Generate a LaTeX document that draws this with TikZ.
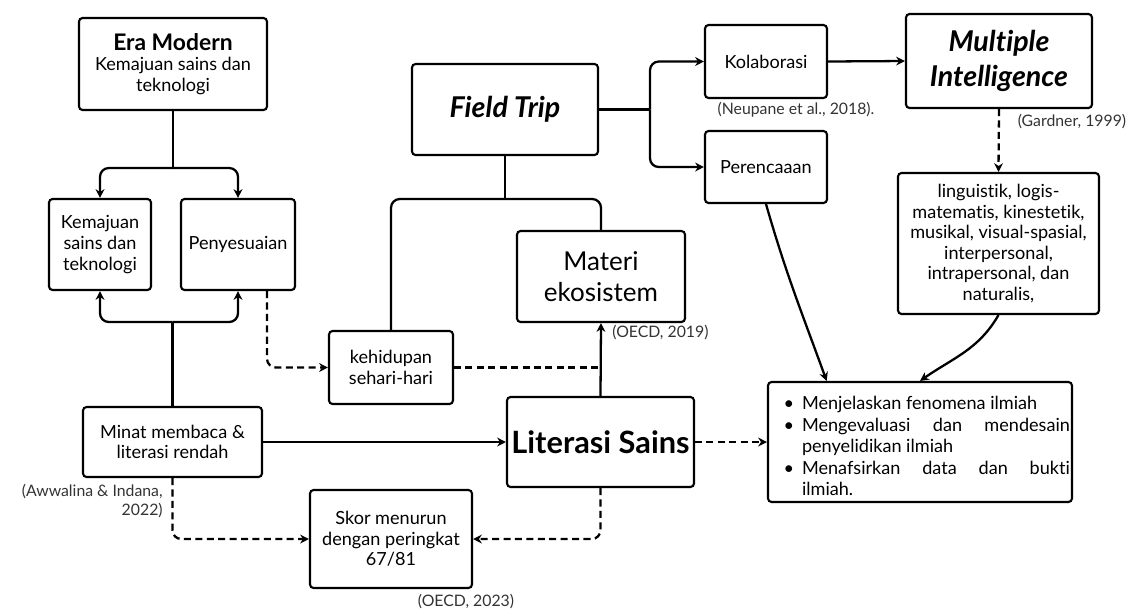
\documentclass[tikz,border=0pt]{standalone}
\usepackage{fontspec}
\setmainfont{Lato}[Ligatures=NoCommon]
\usepackage{tikz}
\usetikzlibrary{arrows.meta, positioning, calc}

\tikzset{
  kotak/.style={draw, line width=1.2pt, rounded corners=2pt, align=center, inner sep=2pt,
    font=\fontsize{10.3}{11.7}\selectfont},
  garis/.style={line width=1.3pt, rounded corners=5pt},
  panah/.style={garis, -{Stealth[length=5pt,width=5pt]}},
  putus/.style={dash pattern=on 4pt off 2.5pt},
  sumber/.style={font=\fontsize{9}{11}\selectfont, text=black!80, inner sep=0pt}
}

\begin{document}
\begin{tikzpicture}[x=0.02cm, y=-0.02cm]
  \useasboundingbox (0,0) rectangle (1140,610);
  % Left column
  \node[kotak, minimum width=3.76cm, minimum height=1.84cm] (era) at (173,64)
    {{\fontsize{13}{15}\selectfont\bfseries Era Modern}\\Kemajuan sains dan\\teknologi};
  \node[kotak, minimum width=2.04cm, minimum height=1.82cm] (kemajuan) at (100,244.5)
    {Kemajuan\\sains dan\\teknologi};
  \node[kotak, minimum width=2.28cm, minimum height=1.82cm] (penyesuaian) at (238,244.5)
    {Penyesuaian};
  \node[kotak, minimum width=3.58cm, minimum height=1.4cm] (minat) at (172.5,442)
    {Minat membaca \&\\literasi rendah};
  % Middle column
  \node[kotak, minimum width=3.72cm, minimum height=1.82cm] (field) at (505,109.5)
    {\fontsize{16.3}{19}\selectfont\bfseries\itshape Field Trip};
  \node[kotak, minimum width=2.48cm, minimum height=1.46cm] (kehidupan) at (391,367.5)
    {kehidupan\\sehari-hari};
  \node[kotak, minimum width=3.36cm, minimum height=1.82cm, font=\fontsize{14.8}{17.6}\selectfont] (materi) at (601,276.5)
    {Materi\\ekosistem};
  \node[kotak, minimum width=3.74cm, minimum height=1.8cm] (literasi) at (600.5,442)
    {\fontsize{17.5}{20}\selectfont\bfseries Literasi Sains};
  \node[kotak, minimum width=3.24cm, minimum height=1.96cm] (skor) at (391,539)
    {Skor menurun\\dengan peringkat\\67/81};
  % Right column
  \node[kotak, minimum width=2.44cm, minimum height=1.46cm] (kolab) at (766,61.5) {Kolaborasi};
  \node[kotak, minimum width=2.44cm, minimum height=1.44cm] (rencana) at (766,167) {Perencaaan};
  \node[kotak, minimum width=3.72cm, minimum height=1.88cm, font=\fontsize{16.3}{20}\selectfont\bfseries\itshape] (multi) at (999,61)
    {Multiple\\Intelligence};
  \node[kotak, minimum width=4.02cm, minimum height=2.82cm] (ragam) at (998.5,243.5)
    {linguistik, logis-\\matematis, kinestetik,\\musikal, visual-spasial,\\interpersonal,\\intrapersonal, dan\\naturalis,};
  \node[kotak, inner xsep=0.04cm, text width=6cm, minimum height=2.4cm, align=justify,
    font=\fontsize{10.3}{12.3}\selectfont] (indikator) at (920,442)
    {\begin{list}{\textbullet}{\setlength{\leftmargin}{0.64cm}\setlength{\labelsep}{0.16cm}%
       \setlength{\topsep}{0pt}\setlength{\partopsep}{0pt}\setlength{\itemsep}{0pt}%
       \setlength{\parsep}{0pt}\setlength{\rightmargin}{0pt}}
     \item Menjelaskan fenomena ilmiah
     \item Mengevaluasi dan mendesain\linebreak penyelidikan ilmiah
     \item Menafsirkan data dan bukti\linebreak ilmiah.
     \end{list}};
  % Sources
  \node[sumber] (neupane) at (796,110) {(Neupane et al., 2018).};
  \node[sumber] (gardner) at (1072,122) {(Gardner, 1999)};
  \node[sumber, anchor=west] (oecda) at (612,333) {(OECD, 2019)};
  \node[sumber, anchor=east, align=right] (awwalina) at (163,501) {(Awwalina \& Indana,\\2022)};
  \node[sumber] (oecdb) at (466,602) {(OECD, 2023)};
  % Forks
  \coordinate (eraf) at (173,168);
  \coordinate (minatf) at (172.5,322);
  \coordinate (fieldb) at (505,199);
  \coordinate (fieldk) at (650,109.5);
  % Connectors
  \draw[garis] (era.south) -- (eraf);
  \draw[panah] (eraf) -| (kemajuan.north);
  \draw[panah] (eraf) -| (penyesuaian.north);
  \draw[garis] (minat.north) -- (minatf);
  \draw[panah] (minatf) -| (kemajuan.south);
  \draw[panah] (minatf) -| (penyesuaian.south);
  \draw[garis] (field.south) -- (fieldb);
  \draw[garis] (fieldb) -| (kehidupan.north);
  \draw[garis] (fieldb) -| (materi.north);
  \draw[garis] (field.east) -- (fieldk);
  \draw[panah] (fieldk) |- (kolab.west);
  \draw[panah] (fieldk) |- (rencana.west);
  \draw[panah, putus] ($(penyesuaian.south)!0.5!(penyesuaian.south east)$) |- (kehidupan.west);
  \draw[garis, putus] (kehidupan.east) -- (kehidupan.east -| materi.south);
  \draw[panah] (literasi.north) -- (materi.south);
  \draw[panah] (minat.east) -- (literasi.west);
  \draw[panah, putus] (minat.south) |- (skor.west);
  \draw[panah, putus] (literasi.south) |- (skor.east);
  \draw[panah, putus] (literasi.east) -- (indikator.west);
  \draw[panah] (kolab.east) -- (multi.west);
  \draw[panah, putus] (multi.south) -- (ragam.north);
  \draw[panah] (rencana.south) to[out=-74, in=110] ($(indikator.north west)!0.195!(indikator.north east)$);
  \draw[panah] (ragam.south) to[out=240, in=35] (indikator.north);
\end{tikzpicture}
\end{document}
